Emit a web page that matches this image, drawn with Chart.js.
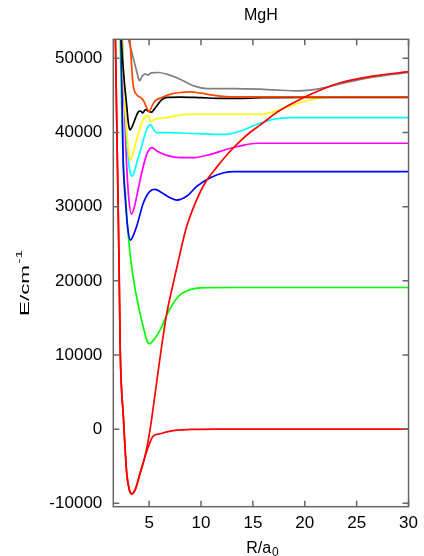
<!DOCTYPE html>
<html><head><meta charset="utf-8">
<script src="https://cdn.jsdelivr.net/npm/chart.js@4"></script>
<style>html,body{margin:0;padding:0;background:#fff}canvas{display:block}</style>
</head><body>
<canvas id="c" width="424" height="556"></canvas>
<script>
const chartTitle = 'MgH';
const xTitleMain = 'R/a';
const xTitleSub = '0';
const yTitleMain = 'E/cm';
const yTitleSup = '-1';
const xTicks = [5, 10, 15, 20, 25, 30];
const yTicks = [-10000, 0, 10000, 20000, 30000, 40000, 50000];
const xRange = [1.55, 30];
const yRange = [-10460, 52570];

const ionicR = [1.6, 1.75, 1.94, 2.1, 2.22, 2.52, 2.84, 3.1, 3.32, 3.65, 4.13, 4.6, 5.1, 5.6, 6.16, 6.71, 7.3, 7.9, 8.55, 9.6, 10.4, 11.5, 12.7, 13.8, 14.8, 15.7, 17.5, 19.9, 21.7, 23.5, 26.7, 30];
const ionicE = [66000, 53000, 36400, 22800, 10500, 1700, -5900, -8200, -8740, -8200, -5940, -3690, 0, 5000, 10700, 15670, 19500, 23200, 27000, 30980, 33230, 35300, 37300, 38860, 40100, 41000, 42900, 44720, 45840, 46740, 47640, 48200];

const groundR = [1.6, 1.75, 1.94, 2.1, 2.22, 2.52, 2.84, 3.1, 3.32, 3.65, 4.13, 4.61, 4.94, 5.26, 5.42, 6.07, 6.71, 7.68, 8.97, 11.5, 30];
const groundE = [66000, 53000, 36400, 22800, 10500, 1700, -5900, -8200, -8740, -8200, -5940, -3690, -2340, -1220, -900, -630, -360, -135, -45, 0, 0];

const orangeR = [2.95, 3.15, 3.45, 3.8, 4.2, 4.5, 4.75, 5.0, 5.25, 5.6, 6.2, 7.0, 8.0, 9.0, 10.0, 11.2, 13.2, 20, 30];
const orangeE = [56000, 52500, 46600, 45100, 44700, 44200, 43400, 42800, 43500, 44300, 44700, 45150, 45400, 45480, 45300, 45030, 44800, 44800, 44800];

const blackR = [2.2, 2.35, 2.6, 2.81, 3.0, 3.15, 3.4, 3.7, 3.95, 4.15, 4.4, 4.65, 4.95, 5.25, 5.5, 5.75, 6.2, 6.7, 8, 10, 12, 14, 16, 20, 30];
const blackE = [57000, 52000, 47000, 44100, 41300, 40350, 40900, 42000, 42770, 42900, 42650, 43100, 42850, 42750, 43150, 43600, 44400, 44750, 44780, 44700, 44600, 44600, 44700, 44750, 44750];

const yellowR = [2.3, 2.45, 2.65, 2.88, 3.05, 3.2, 3.45, 3.8, 4.15, 4.45, 4.75, 4.94, 5.15, 5.35, 5.6, 6.7, 8.65, 15.7, 17.0, 18.6, 20.3, 21.9, 23, 30];
const yellowE = [56000, 50500, 44100, 39600, 37000, 36300, 37200, 39100, 40700, 41790, 42200, 42240, 41450, 41600, 41790, 42010, 42460, 42460, 42780, 43590, 44350, 44720, 44800, 44800];

const cyanR = [2.3, 2.55, 2.8, 3.0, 3.2, 3.38, 3.6, 3.81, 4.29, 4.77, 5.16, 5.42, 5.74, 6.71, 8.65, 11.5, 12.5, 13.8, 15.4, 17.0, 18.6, 30];
const cyanE = [56000, 47000, 40000, 36300, 34500, 34130, 34800, 35930, 38180, 40440, 41020, 40440, 39990, 39990, 39900, 39760, 39760, 40210, 41110, 41790, 42010, 42010];

const magentaR = [2.35, 2.55, 2.81, 3.05, 3.3, 3.55, 3.81, 4.29, 4.77, 5.26, 5.74, 6.71, 8.0, 9.3, 10.9, 12.5, 13.8, 15.4, 30];
const magentaE = [56000, 46000, 36370, 31000, 29000, 29800, 31430, 34580, 37060, 37960, 37510, 36920, 36610, 36610, 37060, 37740, 38190, 38550, 38550];

const blueR = [2.25, 2.38, 2.5, 2.71, 2.95, 3.2, 3.5, 3.81, 4.45, 5.1, 5.58, 6.23, 7.03, 7.68, 8.65, 9.62, 10.9, 12.2, 13.2, 30];
const blueE = [56000, 46000, 36400, 31000, 27000, 25500, 26200, 27380, 30530, 32110, 32330, 31880, 31210, 30890, 31430, 32780, 33910, 34580, 34720, 34720];

const greenR = [2.15, 2.3, 2.49, 2.71, 2.9, 3.23, 3.72, 4.42, 4.9, 5.03, 5.58, 6.23, 6.71, 7.35, 8.0, 8.97, 9.94, 13.2, 30];
const greenE = [57000, 47000, 36370, 31900, 27800, 22870, 18370, 13860, 11620, 11530, 12290, 13870, 15450, 17020, 18150, 18820, 19050, 19100, 19100];

const grayR = [2.7, 3.0, 3.5, 3.85, 4.07, 4.3, 4.6, 4.9, 5.2, 5.9, 6.7, 8.0, 9.3, 10.6, 13.2, 15.7, 17.0, 19.4, 21.2, 23.5, 26.7, 30];
const grayE = [54200, 52600, 49900, 48000, 46970, 47500, 47900, 47750, 48050, 48090, 47870, 47190, 46290, 45930, 45930, 45840, 45750, 45610, 45840, 46600, 47500, 48100];

const FONT = "'Liberation Sans', Arial, Helvetica, sans-serif";
const pts = (rs, es) => rs.map((r, i) => ({x: r, y: es[i]}));
const ds = (label, rs, es, color) => ({
  label, data: pts(rs, es), borderColor: color, backgroundColor: color,
  borderWidth: 1.7, pointRadius: 0, fill: false, cubicInterpolationMode: 'monotone'
});

const framePlugin = {
  id: 'frame',
  afterDatasetsDraw(chart) {
    const {ctx, chartArea: a, scales: {x, y}} = chart;
    ctx.save();
    ctx.strokeStyle = '#666666';
    ctx.lineWidth = 1.5;
    ctx.strokeRect(a.left, a.top, a.right - a.left, a.bottom - a.top);
    const L = 6;
    ctx.beginPath();
    x.ticks.forEach(t => {
      const p = x.getPixelForValue(t.value);
      ctx.moveTo(p, a.bottom); ctx.lineTo(p, a.bottom - L);
      ctx.moveTo(p, a.top); ctx.lineTo(p, a.top + L);
    });
    y.ticks.forEach(t => {
      const p = y.getPixelForValue(t.value);
      ctx.moveTo(a.left, p); ctx.lineTo(a.left + L, p);
      ctx.moveTo(a.right, p); ctx.lineTo(a.right - L, p);
    });
    ctx.stroke();
    ctx.restore();
  }
};

const axisTitlePlugin = {
  id: 'axisTitles',
  afterDraw(chart) {
    const {ctx, chartArea: a} = chart;
    ctx.save();
    ctx.fillStyle = '#000';
    ctx.textBaseline = 'alphabetic';
    ctx.textAlign = 'left';
    // x axis title with subscript
    ctx.font = '16px ' + FONT;
    const mw = ctx.measureText(xTitleMain).width;
    ctx.font = '12px ' + FONT;
    const sw = ctx.measureText(xTitleSub).width;
    const cx = (a.left + a.right) / 2 + 1.5;
    const x0 = cx - (mw + 1 + sw) / 2;
    ctx.font = '16px ' + FONT;
    ctx.fillText(xTitleMain, x0, 552.5);
    ctx.font = '12px ' + FONT;
    ctx.fillText(xTitleSub, x0 + mw + 1, 555.5);
    // y axis title with superscript (rotated, elongated like the reference)
    ctx.translate(28.5, 316);
    ctx.rotate(-Math.PI / 2);
    ctx.scale(1.72, 1);
    ctx.font = '13px ' + FONT;
    const yw = ctx.measureText(yTitleMain).width;
    ctx.fillText(yTitleMain, 0, 0);
    ctx.font = '9px ' + FONT;
    ctx.fillText(yTitleSup, yw + 0.8, -7);
    ctx.restore();
  }
};

new Chart(document.getElementById('c'), {
  type: 'line',
  data: {
    datasets: [
      ds('ion-pair', ionicR, ionicE, '#ff0000'),
      ds('X', groundR, groundE, '#ff0000'),
      ds('s8', orangeR, orangeE, '#ff4500'),
      ds('s7', blackR, blackE, '#000000'),
      ds('s6', yellowR, yellowE, '#ffff00'),
      ds('s5', cyanR, cyanE, '#00ffff'),
      ds('s4', magentaR, magentaE, '#ff00ff'),
      ds('s3', blueR, blueE, '#0000ff'),
      ds('s2', greenR, greenE, '#00ff00'),
      ds('s9', grayR, grayE, '#808080')
    ]
  },
  options: {
    responsive: false,
    animation: false,
    devicePixelRatio: 1,
    layout: {padding: {left: 0, right: 14, top: 0, bottom: 0}},
    plugins: {
      legend: {display: false},
      tooltip: {enabled: false},
      title: {
        display: true, text: chartTitle, fullSize: false, color: '#000',
        font: {family: FONT, size: 16, weight: 'normal'},
        padding: {top: 5.5, bottom: 14.6}
      }
    },
    scales: {
      x: {
        type: 'linear', min: xRange[0], max: xRange[1],
        afterBuildTicks: s => { s.ticks = xTicks.map(v => ({value: v})); },
        afterFit: s => { s.height = 49.3; },
        grid: {display: false, drawTicks: false}, border: {display: false},
        ticks: {
          font: {family: FONT, size: 17}, color: '#000', padding: 6,
          autoSkip: false, maxRotation: 0, callback: v => String(v)
        },
        title: {display: false}
      },
      y: {
        type: 'linear', min: yRange[0], max: yRange[1],
        afterBuildTicks: s => { s.ticks = yTicks.map(v => ({value: v})); },
        afterFit: s => { s.width = 113.3; },
        grid: {display: false, drawTicks: false}, border: {display: false},
        ticks: {
          font: {family: FONT, size: 17}, color: '#000', padding: 11,
          autoSkip: false, callback: v => String(v)
        },
        title: {display: false}
      }
    }
  },
  plugins: [framePlugin, axisTitlePlugin]
});
</script>
</body></html>
